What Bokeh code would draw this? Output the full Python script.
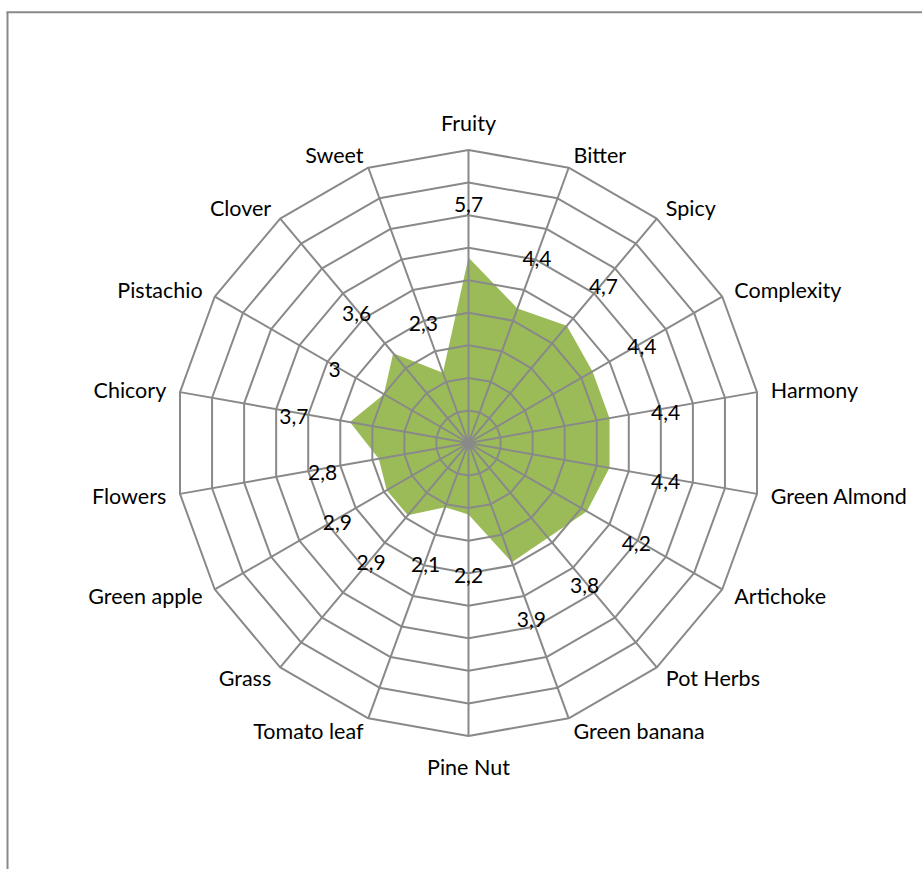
import math
from bokeh.plotting import figure
from bokeh.models import ColumnDataSource
from bokeh.core.properties import value
from bokeh.embed import file_html
from bokeh.resources import INLINE

categories = ["Fruity", "Bitter", "Spicy", "Complexity", "Harmony", "Green Almond",
              "Artichoke", "Pot Herbs", "Green banana", "Pine Nut", "Tomato leaf",
              "Grass", "Green apple", "Flowers", "Chicory", "Pistachio", "Clover", "Sweet"]
scores = [5.7, 4.4, 4.7, 4.4, 4.4, 4.4, 4.2, 3.8, 3.9, 2.2, 2.1, 2.9, 2.9, 2.8, 3.7, 3.0, 3.6, 2.3]
score_labels = ["5,7", "4,4", "4,7", "4,4", "4,4", "4,4", "4,2", "3,8", "3,9", "2,2", "2,1",
                "2,9", "2,9", "2,8", "3,7", "3", "3,6", "2,3"]
rings = [1, 2, 3, 4, 5, 6, 7, 8, 9]

W, H = 922, 869
CX, CY = 468, 442.5        # centre position inside the canvas (px from left / top)
UNIT = 32.55               # pixels per score unit
RMAX = rings[-1] * UNIT
GRID = "#898989"
FONT = "Lato"

p = figure(width=W, height=H, output_backend="svg", toolbar_location=None,
           x_range=(-CX, W - CX), y_range=(CY - H, CY),
           x_axis_type=None, y_axis_type=None, min_border=0)
p.outline_line_color = None
p.background_fill_color = "white"
p.border_fill_color = "white"

n = len(categories)
ang = [2 * math.pi * i / n for i in range(n)]
sx = [math.sin(a) for a in ang]
cy = [math.cos(a) for a in ang]

# filled series polygon
px = [s * v * UNIT for s, v in zip(sx, scores)]
py = [c * v * UNIT for c, v in zip(cy, scores)]
p.patch(px, py, fill_color="#9BBB59", line_color=None)

# rings
for r in rings:
    xs = [s * r * UNIT for s in sx] + [0]
    ys = [c * r * UNIT for c in cy] + [0]
    xs[-1], ys[-1] = xs[0], ys[0]
    p.line(xs, ys, line_color=GRID, line_width=2)

# spokes
p.segment(x0=[0] * n, y0=[0] * n, x1=[s * RMAX for s in sx], y1=[c * RMAX for c in cy],
          line_color=GRID, line_width=2)

# category labels
lx, ly, al, bl = [], [], [], []
for i in range(n):
    s, c = sx[i], cy[i]
    if abs(s) < 0.05:
        off = 14 if c > 0 else 18
    else:
        off = 14
    lx.append(s * (RMAX + off))
    ly.append(c * (RMAX + off))
    al.append("left" if s > 0.05 else ("right" if s < -0.05 else "center"))
    if abs(s) < 0.05:
        bl.append("bottom" if c > 0 else "top")
    else:
        bl.append("middle")
csrc = ColumnDataSource(dict(x=lx, y=ly, t=categories, a=al, b=bl))
p.text(x="x", y="y", text="t", text_align="a", text_baseline="b", source=csrc,
       text_font=value(FONT), text_font_size="21.5px", text_color="#000000")

# data labels
dx = [s * (v * UNIT + 57) for s, v in zip(sx, scores)]
dy = [c * (v * UNIT + 57) - 4 for c, v in zip(cy, scores)]
dsrc = ColumnDataSource(dict(x=dx, y=dy, t=score_labels))
p.text(x="x", y="y", text="t", text_align="center", text_baseline="middle", source=dsrc,
       text_font=value(FONT), text_font_size="21px", text_color="#000000")

# chart area border (top and left edges visible)
p.segment(x0=[-CX + 7, -CX + 6], y0=[CY - H, CY - 11.7], x1=[-CX + 7, W - CX], y1=[CY - 11.7, CY - 11.7],
          line_color=GRID, line_width=2)

open("out.html", "w").write(file_html(p, INLINE))
